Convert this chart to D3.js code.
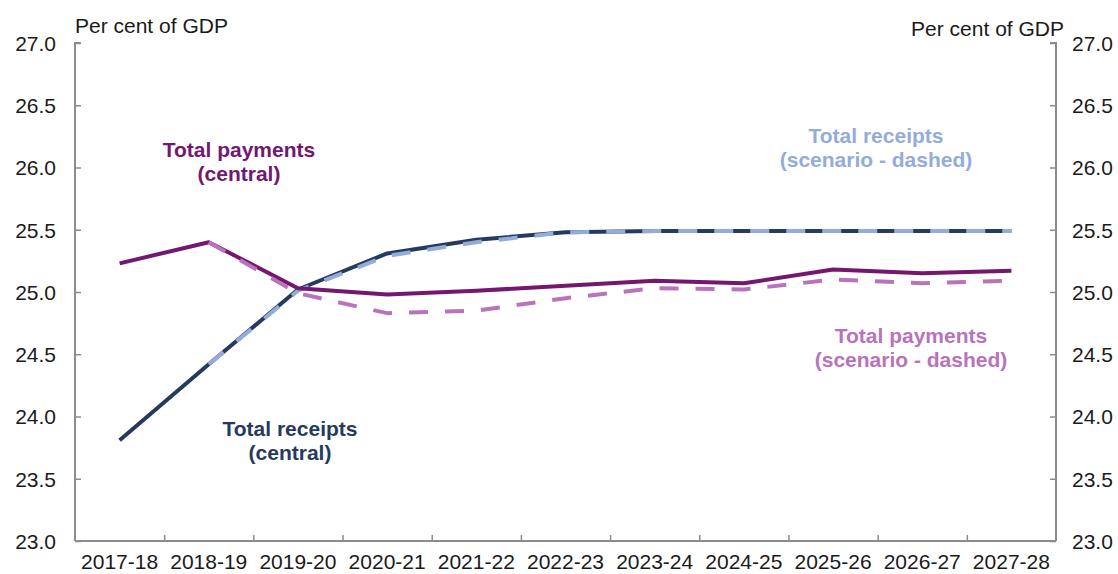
<!DOCTYPE html>
<html>
<head>
<meta charset="utf-8">
<script src="https://cdn.jsdelivr.net/npm/d3@7"></script>
<style>
  html, body { margin: 0; padding: 0; background: #fff; }
  svg { display: block; font-family: Arial, "Liberation Sans", sans-serif; }
</style>
</head>
<body>
<svg id="chart" width="1118" height="574"></svg>
<script>
// Financial years on the horizontal axis
const years = ["2017-18", "2018-19", "2019-20", "2020-21", "2021-22", "2022-23",
               "2023-24", "2024-25", "2025-26", "2026-27", "2027-28"];

// Per cent of GDP; null where a series has no value
const paymentsCentral  = [25.23, 25.40, 25.03, 24.98, 25.01, 25.05, 25.09, 25.07, 25.18, 25.15, 25.17];
const paymentsScenario = [null, 25.40, 24.99, 24.83, 24.85, 24.95, 25.03, 25.02, 25.10, 25.07, 25.09];
const receiptsCentral  = [23.81, 24.42, 25.02, 25.31, 25.42, 25.48, 25.49, 25.49, 25.49, 25.49, 25.49];
const receiptsScenario = [null, 24.42, 25.01, 25.29, 25.40, 25.48, 25.49, 25.49, 25.49, 25.49, 25.49];

const yTicks = [23.0, 23.5, 24.0, 24.5, 25.0, 25.5, 26.0, 26.5, 27.0];

const svg = d3.select("#chart");
const plotLeft = 75, plotRight = 1056, plotTop = 43, plotBottom = 541;

const x = d3.scaleBand().domain(years).range([plotLeft, plotRight]).paddingInner(0).paddingOuter(0);
const y = d3.scaleLinear().domain([23, 27]).range([plotBottom, plotTop]);

const axisColor = "#8c8c8c";
const textColor = "#1a1a1a";
const fontSize = 21;

// Left axis
const yLeft = svg.append("g").attr("transform", `translate(${plotLeft},0)`)
  .call(d3.axisRight(y).tickValues(yTicks).tickSize(6).tickFormat(""));
// Right axis
const yRight = svg.append("g").attr("transform", `translate(${plotRight},0)`)
  .call(d3.axisLeft(y).tickValues(yTicks).tickSize(6).tickFormat(""));
// Bottom axis: ticks at category boundaries, pointing up
const bounds = years.slice(1).map(d => x(d));
const xAxis = svg.append("g").attr("transform", `translate(0,${plotBottom})`)
  .call(d3.axisTop(d3.scaleLinear().domain([plotLeft, plotRight]).range([plotLeft, plotRight]))
    .tickValues(bounds).tickSize(6).tickFormat(""));

[yLeft, yRight, xAxis].forEach(g => {
  g.selectAll(".domain").attr("stroke", axisColor).attr("stroke-width", 2);
  g.selectAll(".tick line").attr("stroke", axisColor).attr("stroke-width", 1.5);
});
// axis lines without the outer end caps
yLeft.select(".domain").attr("d", `M6,${plotTop}H0V${plotBottom}`);
yRight.select(".domain").attr("d", `M-6,${plotTop}H0V${plotBottom}`);
xAxis.select(".domain").attr("d", `M${plotLeft},0H${plotRight}`);

// Tick labels
const fmt = d3.format(".1f");
svg.append("g").selectAll("text").data(yTicks).join("text")
  .attr("x", 56).attr("y", d => y(d)).attr("dy", "0.37em")
  .attr("text-anchor", "end").attr("font-size", fontSize).attr("fill", textColor)
  .text(fmt);
svg.append("g").selectAll("text").data(yTicks).join("text")
  .attr("x", 1072).attr("y", d => y(d)).attr("dy", "0.37em")
  .attr("text-anchor", "start").attr("font-size", fontSize).attr("fill", textColor)
  .text(fmt);
svg.append("g").selectAll("text").data(years).join("text")
  .attr("x", d => x(d) + x.bandwidth() / 2).attr("y", 569)
  .attr("text-anchor", "middle").attr("font-size", fontSize).attr("fill", textColor)
  .text(d => d);

// Axis unit titles
svg.append("text").attr("x", 75).attr("y", 33).attr("font-size", fontSize).attr("fill", textColor)
  .text("Per cent of GDP");
svg.append("text").attr("x", 1064).attr("y", 36).attr("text-anchor", "end")
  .attr("font-size", fontSize).attr("fill", textColor).text("Per cent of GDP");

// Lines
const line = d3.line()
  .defined(d => d.v != null)
  .x(d => x(d.year) + x.bandwidth() / 2)
  .y(d => y(d.v));
const pts = arr => years.map((yr, i) => ({ year: yr, v: arr[i] }));

const series = [
  { data: receiptsCentral,  color: "#263a60", dash: null },
  { data: receiptsScenario, color: "#94acd8", dash: "19,17" },
  { data: paymentsCentral,  color: "#74176f", dash: null },
  { data: paymentsScenario, color: "#b873bb", dash: "19,17" }
];
svg.append("g").selectAll("path").data(series).join("path")
  .attr("d", s => line(pts(s.data)))
  .attr("fill", "none")
  .attr("stroke", s => s.color)
  .attr("stroke-width", 4)
  .attr("stroke-linejoin", "round")
  .attr("stroke-dasharray", s => s.dash);

// Series labels
const labels = [
  { lines: ["Total payments", "(central)"], x: 239, y: 157, color: "#74176f" },
  { lines: ["Total receipts", "(scenario - dashed)"], x: 876, y: 143, color: "#94acd8" },
  { lines: ["Total payments", "(scenario - dashed)"], x: 911, y: 343, color: "#b873bb" },
  { lines: ["Total receipts", "(central)"], x: 290, y: 436, color: "#263a60" }
];
labels.forEach(l => {
  const t = svg.append("text").attr("text-anchor", "middle")
    .attr("font-size", fontSize).attr("font-weight", "bold").attr("fill", l.color);
  l.lines.forEach((s, i) => {
    t.append("tspan").attr("x", l.x).attr("y", l.y + i * 24).text(s);
  });
});
</script>
</body>
</html>
